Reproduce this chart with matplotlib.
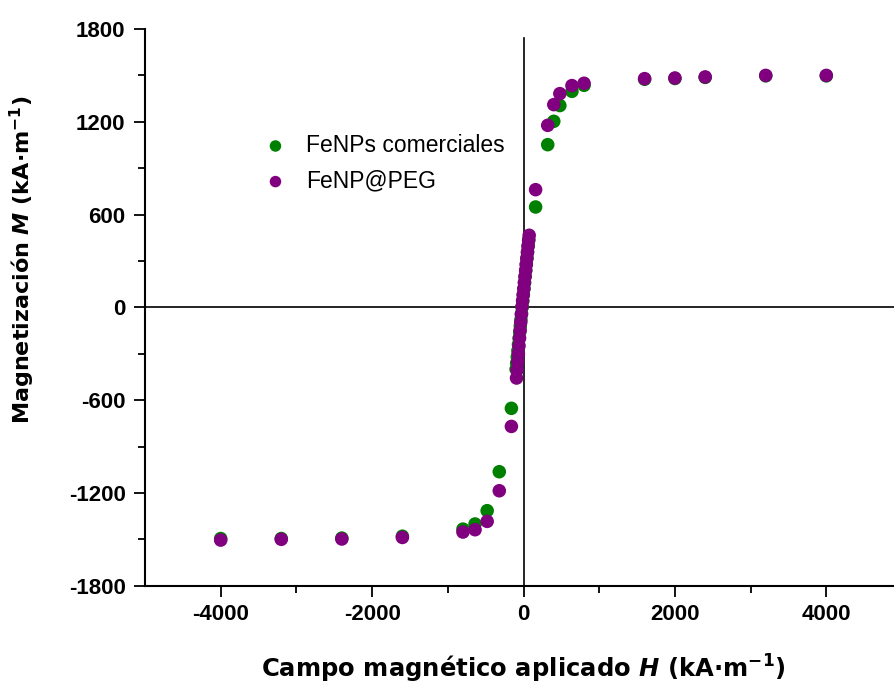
import numpy as np
import matplotlib
matplotlib.use("Agg")
import matplotlib.pyplot as plt

plt.rcParams['mathtext.fontset'] = 'custom'
plt.rcParams['mathtext.rm'] = 'DejaVu Sans:bold'
plt.rcParams['mathtext.it'] = 'DejaVu Sans:bold:italic'
plt.rcParams['mathtext.bf'] = 'DejaVu Sans:bold'
plt.rcParams['axes.unicode_minus'] = False

# campo aplicado H (kA/m) y magnetizacion M (kA/m)
H_com = [-4000, -3200, -2400, -1600, -800, -640, -480, -320, -160,
         70, 62, 54, 46, 38, 30, 22, 14, 6, -2, -10, -18, -26, -34, -42,
         -50, -58, -66, -74, -82, -90, -98,
         160, 320, 400, 480, 640, 800, 1600, 2000, 2400, 3200, 4000]
M_com = [-1495, -1495, -1492, -1480, -1434, -1401, -1315, -1063, -653,
         440, 400, 360, 320, 280, 240, 200, 160, 120, 80, 40, 0, -40, -80, -120,
         -160, -200, -240, -280, -320, -360, -400,
         649, 1052, 1203, 1305, 1397, 1436, 1475, 1480, 1487, 1497, 1497]

H_peg = [-4000, -3200, -2400, -1600, -800, -640, -480, -320, -160,
         75, 68, 60, 52, 44, 36, 28, 20, 12, 4, -4, -12, -20, -28, -36,
         -44, -52, -60, -68, -76, -84, -92,
         160, 320, 400, 480, 640, 800, 1600, 2000, 2400, 3200, 4000]
M_peg = [-1505, -1500, -1498, -1488, -1453, -1438, -1384, -1186, -770,
         466, 432, 393, 354, 315, 276, 238, 199, 160, 121, 82, 44, 5, -46, -97,
         -148, -199, -250, -300, -352, -404, -457,
         761, 1177, 1311, 1382, 1434, 1449, 1479, 1483, 1490, 1500, 1500]

fig = plt.figure(figsize=(8.94, 6.88), dpi=100)
ax = fig.add_axes([145/894, 1 - 585.7/688, (902 - 145)/894, (585.7 - 29)/688])

ax.axhline(0, color='black', lw=1.2, zorder=1)
ax.plot([0, 0], [-1800, 1740], color='black', lw=1.2, zorder=1)

ax.scatter(H_com, M_com, s=95, color='#008000', edgecolors='none', zorder=3, label='FeNPs comerciales')
ax.scatter(H_peg, M_peg, s=95, color='#800080', edgecolors='none', zorder=4, label='FeNP@PEG')

ax.set_xlim(-5000, 5000)
ax.set_ylim(-1800, 1800)
ax.set_xticks([-4000, -2000, 0, 2000, 4000])
ax.set_xticks([-3000, -1000, 1000, 3000], minor=True)
ax.set_yticks(np.arange(-1800, 1801, 600))
ax.set_yticks(np.arange(-1500, 1501, 600), minor=True)

for s in ['top', 'right']:
    ax.spines[s].set_visible(False)
for s in ['left', 'bottom']:
    ax.spines[s].set_linewidth(1.5)

ax.tick_params(which='major', direction='out', length=8, width=1.3)
ax.tick_params(which='minor', direction='out', length=5, width=1.3)
ax.tick_params(axis='x', which='major', pad=5)
ax.tick_params(axis='y', which='major', pad=6)
for lab in ax.get_xticklabels() + ax.get_yticklabels():
    lab.set_fontfamily('Liberation Sans')
    lab.set_fontweight('bold')
    lab.set_fontsize(16)

ax.set_xlabel(r'Campo magnético aplicado $H$ (kA·m$^{-1}$)', fontsize=17.5,
              fontweight='bold', family='DejaVu Sans', labelpad=20)
ax.set_ylabel(r'Magnetización $M$ (kA·m$^{-1}$)', fontsize=16,
              fontweight='bold', family='DejaVu Sans')
ax.yaxis.set_label_coords(-0.143, 0.585)

leg = ax.legend(loc='upper left', bbox_to_anchor=(264/894, 1 - 134/688),
                bbox_transform=fig.transFigure, frameon=False, borderpad=0,
                borderaxespad=0, handlelength=1, handletextpad=0.85,
                labelspacing=0.55, scatterpoints=1, markerscale=0.85,
                prop={'family': 'Liberation Sans', 'size': 16.5})

plt.savefig('out.png', dpi=100)
